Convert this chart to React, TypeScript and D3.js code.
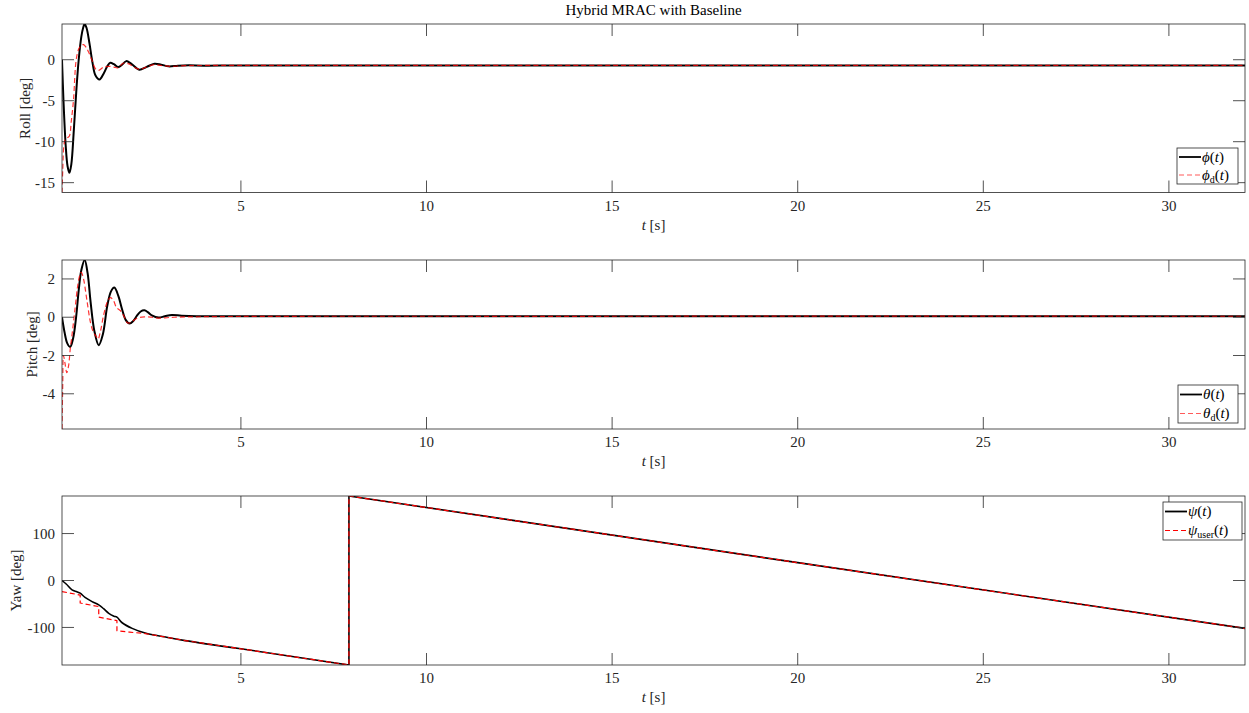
import React from 'react';
import * as d3 from 'd3';

// ---------- data ----------
const xDomain = [0.18, 32.05];
const xTicks = [5, 10, 15, 20, 25, 30];

const rollT = [0.18, 0.22, 0.28, 0.33, 0.38, 0.43, 0.5, 0.57, 0.63, 0.7, 0.75, 0.79, 0.84, 0.92, 1.0, 1.08, 1.19, 1.3, 1.4, 1.48, 1.58, 1.69, 1.8, 1.91, 2.05, 2.26, 2.45, 2.67, 2.85, 3.05, 3.3, 3.6, 4.0, 5, 15, 32.05];
const rollPhi = [0, -5, -10.5, -13, -13.8, -12.8, -8.5, -3.5, 0, 2.8, 3.9, 4.36, 3.9, 2, -0.3, -1.9, -2.42, -1.7, -0.8, -0.37, -0.55, -0.9, -0.6, -0.17, -0.5, -1.21, -0.9, -0.49, -0.6, -0.81, -0.72, -0.68, -0.72, -0.7, -0.7, -0.7];
const rollDT = [0.18, 0.2, 0.23, 0.27, 0.33, 0.38, 0.43, 0.49, 0.56, 0.63, 0.7, 0.76, 0.83, 0.9, 1.0, 1.08, 1.17, 1.3, 1.45, 1.58, 1.68, 1.84, 1.98, 2.12, 2.28, 2.45, 2.65, 2.85, 3.1, 3.5, 4, 15, 32.05];
const rollPhiD = [-16.2, -13.5, -10.5, -9.7, -9.5, -9.3, -7.5, -4.9, -0.1, 1.3, 1.75, 1.85, 1.5, 0.9, -0.2, -1.1, -1.3, -0.9, -0.8, -0.9, -1.0, -0.4, -0.5, -0.9, -1.15, -0.9, -0.6, -0.7, -0.8, -0.72, -0.7, -0.7, -0.7];

const pitchT = [0.18, 0.25, 0.32, 0.4, 0.48, 0.56, 0.63, 0.7, 0.79, 0.87, 0.95, 1.05, 1.17, 1.28, 1.4, 1.5, 1.59, 1.7, 1.8, 1.9, 2.0, 2.1, 2.2, 2.3, 2.4, 2.5, 2.6, 2.78, 2.95, 3.14, 3.4, 3.8, 5, 15, 32.05];
const pitchTheta = [0, -0.8, -1.35, -1.55, -1.1, 0, 1.4, 2.45, 2.99, 2.3, 0.8, -0.7, -1.46, -0.9, 0.6, 1.35, 1.55, 1.1, 0.4, -0.15, -0.33, -0.2, 0.08, 0.3, 0.36, 0.25, 0.1, -0.02, 0.05, 0.12, 0.08, 0.05, 0.05, 0.05, 0.05];
const pitchDT = [0.18, 0.2, 0.22, 0.26, 0.31, 0.36, 0.4, 0.47, 0.54, 0.6, 0.66, 0.7, 0.76, 0.85, 0.95, 1.03, 1.1, 1.15, 1.22, 1.3, 1.4, 1.48, 1.56, 1.65, 1.75, 1.85, 1.95, 2.05, 2.2, 2.4, 2.6, 2.8, 3.2, 15, 32.05];
const pitchThetaD = [-5.84, -3.5, -2.0, -2.4, -2.9, -2.5, -1.7, -0.6, 0.6, 1.6, 2.2, 2.35, 2.0, 0.9, -0.3, -0.8, -1.0, -1.15, -0.7, 0.1, 0.8, 1.02, 0.9, 0.5, 0.35, 0.05, -0.3, -0.25, -0.05, 0.02, 0, -0.05, 0.0, 0.05, 0.05];

const yawEarlyT = [0.18, 0.3, 0.45, 0.58, 0.67, 0.8, 0.99, 1.17, 1.3, 1.44, 1.58, 1.66, 1.8, 2.07, 2.42, 3.0, 3.5, 5];
const yawEarlyPsi = [0, -8, -20, -24, -27, -36, -45, -52, -60, -70, -76, -78, -90, -102, -112, -121, -128, -145.5];
const yawLateT = [5, 7.91, 7.91, 20, 32.05];
const yawLatePsi = [-145.5, -180, 180, 38, -102];
const yawUserT = [0.18, 0.67, 0.67, 1.17, 1.17, 1.66, 1.66, 2.0, 2.42, 3.0, 3.5, 5, 7.91, 7.91, 20, 32.05];
const yawUser = [-23.5, -31, -48, -55.5, -78, -85.5, -107, -110, -113, -121, -128, -145.5, -180, 180, 38, -102];

const rollTicks = [-15, -10, -5, 0];
const pitchTicks = [-4, -2, 0, 2];
const yawTicks = [-100, 0, 100];

// ---------- layout ----------
const LEFT = 62;
const RIGHT = 1245;
const FONT = "'Liberation Serif', 'DejaVu Serif', serif";
const AX = '#262626';
const TICK = 12;

type Series = { t: number[]; v: number[]; color: string; width: number; dash?: string; opacity?: number; curve: any; legendColor?: string };

const xScale = d3.scaleLinear().domain(xDomain).range([LEFT, RIGHT]);

function Legend({ x, y, w, h, items }: { x: number; y: number; w: number; h: number; items: { s: Series; label: React.ReactNode }[] }) {
  const rowH = h / items.length;
  return (
    <g>
      <rect x={x} y={y} width={w} height={h} fill="white" stroke={AX} strokeWidth={0.8} />
      {items.map((it, i) => {
        const cy = y + rowH * (i + 0.5);
        return (
          <g key={i}>
            <line x1={x + 2} x2={x + 24} y1={cy} y2={cy} stroke={it.s.legendColor ?? it.s.color} strokeWidth={it.s.width > 1.5 ? 1.8 : 1.2}
              strokeDasharray={it.s.dash} />
            <text x={x + 25} y={cy} dy="0.33em" fontFamily={FONT} fontSize={15} fill="#000">{it.label}</text>
          </g>
        );
      })}
    </g>
  );
}

function Panel({ id, top, bottom, yDomain, yTicks, series, ylabel, ylabelX, legend }: any) {
  const y = d3.scaleLinear().domain(yDomain).range([bottom, top]);
  const mkLine = (s: Series) => {
    const pts = s.t.map((t, i) => [t, s.v[i]] as [number, number]);
    return d3.line<[number, number]>().x(d => xScale(d[0])).y(d => y(d[1])).curve(s.curve)(pts) || '';
  };
  return (
    <g>
      <defs>
        <clipPath id={id}>
          <rect x={LEFT} y={top} width={RIGHT - LEFT} height={bottom - top} />
        </clipPath>
      </defs>
      <rect x={LEFT} y={top} width={RIGHT - LEFT} height={bottom - top} fill="white" />
      <g clipPath={`url(#${id})`}>
        {series.map((s: Series, i: number) => (
          <path key={i} d={mkLine(s)} fill="none" stroke={s.color} strokeWidth={s.width}
            strokeDasharray={s.dash} opacity={s.opacity ?? 1} strokeLinejoin="round" />
        ))}
      </g>
      {xTicks.map(t => (
        <g key={'x' + t}>
          <line x1={xScale(t)} x2={xScale(t)} y1={bottom} y2={bottom - TICK} stroke={AX} strokeWidth={0.8} />
          <line x1={xScale(t)} x2={xScale(t)} y1={top} y2={top + TICK} stroke={AX} strokeWidth={0.8} />
          <text x={xScale(t)} y={bottom + 18} textAnchor="middle" fontFamily={FONT} fontSize={15} fill={AX}>{t}</text>
        </g>
      ))}
      {yTicks.map((t: number) => (
        <g key={'y' + t}>
          <line x1={LEFT} x2={LEFT + TICK} y1={y(t)} y2={y(t)} stroke={AX} strokeWidth={0.8} />
          <line x1={RIGHT} x2={RIGHT - TICK} y1={y(t)} y2={y(t)} stroke={AX} strokeWidth={0.8} />
          <text x={LEFT - 7} y={y(t)} dy="0.35em" textAnchor="end" fontFamily={FONT} fontSize={15} fill={AX}>{t}</text>
        </g>
      ))}
      <rect x={LEFT} y={top} width={RIGHT - LEFT} height={bottom - top} fill="none" stroke={AX} strokeWidth={0.8} />
      <text x={(LEFT + RIGHT) / 2} y={bottom + 37} textAnchor="middle" fontFamily={FONT} fontSize={15} fill={AX}>
        <tspan fontStyle="italic">t</tspan> [s]
      </text>
      <text transform={`translate(${ylabelX},${(top + bottom) / 2}) rotate(-90)`} textAnchor="middle" dy="0.35em"
        fontFamily={FONT} fontSize={15} fill={AX}>{ylabel}</text>
      <Legend {...legend} />
    </g>
  );
}

export default function App() {
  const cr = d3.curveCatmullRom.alpha(0.5);
  const lin = d3.curveLinear;
  const black = (t: number[], v: number[], w = 2, curve: any = cr): Series => ({ t, v, color: '#000', width: w, curve });
  const redS = (t: number[], v: number[], curve: any, op = 0.8, lc = '#ff5a5a'): Series => ({ t, v, color: '#ff0000', width: 1.2, dash: '5,3', opacity: op, curve, legendColor: lc });

  const rollS = [black(rollT, rollPhi), redS(rollDT, rollPhiD, cr)];
  const pitchS = [black(pitchT, pitchTheta), redS(pitchDT, pitchThetaD, cr)];
  const yawS = [black(yawEarlyT, yawEarlyPsi, 1.6, cr), black(yawLateT, yawLatePsi, 1.6, lin), redS(yawUserT, yawUser, lin, 1, '#ff0000')];

  const sub = (base: string, s: string) => (
    <>
      <tspan fontStyle="italic">{base}</tspan>
      <tspan fontSize={10} dy="3">{s}</tspan>
      <tspan dy="-3">(</tspan>
      <tspan fontStyle="italic">t</tspan>)
    </>
  );
  const plain = (base: string) => (
    <>
      <tspan fontStyle="italic">{base}</tspan>(<tspan fontStyle="italic">t</tspan>)
    </>
  );

  return (
    <svg width={1249} height={713} style={{ position: 'absolute', left: 0, top: 0, background: 'white' }}>
      <rect width={1249} height={713} fill="white" />
      <text x={(LEFT + RIGHT) / 2} y={15} textAnchor="middle" fontFamily={FONT} fontSize={15} fill="#000">Hybrid MRAC with Baseline</text>
      <Panel id="c1" top={24} bottom={192.5} yDomain={[-16.2, 4.36]} yTicks={rollTicks} series={rollS}
        ylabel="Roll [deg]" ylabelX={25}
        legend={{ x: 1177, y: 148, w: 61, h: 36, items: [{ s: rollS[0], label: plain('ϕ') }, { s: rollS[1], label: sub('ϕ', 'd') }] }} />
      <Panel id="c2" top={260} bottom={429} yDomain={[-5.84, 2.99]} yTicks={pitchTicks} series={pitchS}
        ylabel="Pitch [deg]" ylabelX={32}
        legend={{ x: 1178, y: 385, w: 60, h: 38, items: [{ s: pitchS[0], label: plain('θ') }, { s: pitchS[1], label: sub('θ', 'd') }] }} />
      <Panel id="c3" top={496} bottom={665} yDomain={[-180, 180]} yTicks={yawTicks} series={yawS}
        ylabel="Yaw [deg]" ylabelX={16}
        legend={{ x: 1163, y: 502, w: 79, h: 38, items: [{ s: yawS[0], label: plain('ψ') }, { s: yawS[2], label: sub('ψ', 'user') }] }} />
    </svg>
  );
}
